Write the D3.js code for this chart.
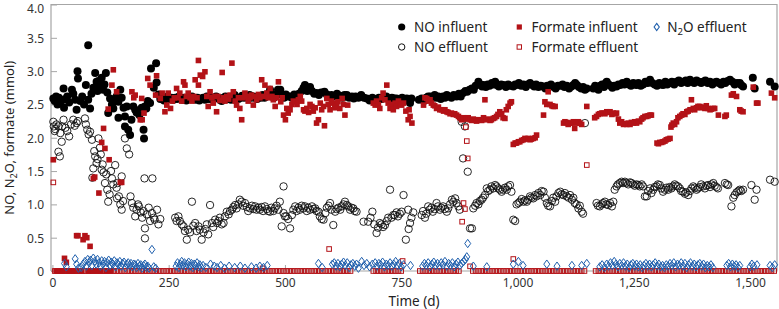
<!DOCTYPE html>
<html>
<head>
<meta charset="utf-8">
<script src="https://cdn.jsdelivr.net/npm/d3@7"></script>
<style>
  body { margin: 0; background: #fff; }
  svg { display: block; font-family: "Noto Sans", "Open Sans", sans-serif; }
</style>
</head>
<body>
<div id="chart"></div>
<script>
// [day, mmol]
const noInfluent = [
  [2,2.59],[5,2.55],[8,2.62],[11,2.5],[14,2.6],[17,2.52],[20,2.56],[24,2.74],[25,2.45],[28,2.58],[32,2.62],[36,2.53],[42,2.72],[45,2.66],[49,2.57],[52,2.42],[54,3.0],[55,2.89],[60,2.55],[64,2.62],[68,2.5],[72,2.79],[77,3.39],[77,2.57],[81,2.44],[84,2.66],[88,2.75],[92,2.97],[95,2.84],[97,2.7],[99,2.85],[102,2.78],[106,2.9],[109,2.72],[112,2.8],[115,2.97],[118,2.68],[120,2.37],[124,2.59],[128,2.5],[131,2.44],[135,2.55],[138,2.62],[142,2.54],[142,2.3],[146,2.72],[149,2.6],[153,2.45],[156,2.32],[156,2.17],[160,2.47],[163,2.12],[167,2.04],[170,2.27],[174,2.47],[178,2.42],[181,2.38],[187,2.34],[192,2.45],[196,2.12],[197,1.99],[199,2.47],[202,2.44],[205,2.55],[210,2.52],[212,3.04],[218,2.75],[223,3.12],[224,2.83],[228,2.65],
  [232,2.58],[236,2.6],[240,2.56],[244,2.6],[248,2.62],[252,2.58],[256,2.6],[260,2.57],[264,2.6],[268,2.58],[272,2.62],[276,2.6],[280,2.57],[284,2.6],[288,2.56],[292,2.58],[296,2.6],[300,2.62],[304,2.58],[308,2.57],[312,2.6],[316,2.56],[320,2.58],[324,2.6],[328,2.57],[332,2.62],[336,2.58],[340,2.6],[344,2.57],[348,2.59],[352,2.62],[356,2.6],[360,2.57],[364,2.55],[368,2.6],[372,2.62],[376,2.58],[380,2.6],[384,2.57],[388,2.62],[392,2.64],[396,2.6],[400,2.58],[404,2.6],[408,2.63],[412,2.6],[416,2.62],[420,2.6],[424,2.64],[428,2.6],[432,2.62],[436,2.6],[440,2.58],[444,2.62],[448,2.6],[452,2.64],[456,2.6],[460,2.62],[464,2.66],[468,2.72],[472,2.65],[476,2.6],[480,2.64],[485,2.72],[490,2.72],[494,2.64],[498,2.6],[502,2.65],[506,2.62],[511,2.62],[515,2.6],[520,2.65],[525,2.62],[530,2.66],[536,2.7],[540,2.75],[543,2.79],[548,2.7],[554,2.76],[558,2.7],[563,2.66],[568,2.67],[573,2.64],[578,2.68],[585,2.69],[590,2.65],[595,2.62],[600,2.64],[606,2.62],[612,2.66],[618,2.63],[624,2.6],[628,2.64],[633,2.64],[638,2.6],[644,2.62],[648,2.59],[652,2.62],[658,2.6],[664,2.64],[670,2.6],[676,2.59],[682,2.56],[688,2.6],[692,2.58],[697,2.57],[702,2.6],[708,2.58],[713,2.62],[718,2.62],[724,2.57],[730,2.6],[735,2.59],[740,2.59],[746,2.56],[752,2.6],[757,2.58],[762,2.59],[766,2.55],[769,2.52],[772,2.59],
  [788,2.57],[794,2.59],[799,2.55],[804,2.6],[808,2.62],[813,2.62],[818,2.6],[822,2.64],[826,2.6],[830,2.62],[835,2.58],[840,2.62],[844,2.6],[848,2.64],[853,2.62],[858,2.6],[863,2.64],[869,2.62],[874,2.66],[878,2.62],[883,2.67],[888,2.7],[892,2.69],[897,2.72],[902,2.74],[906,2.72],[910,2.78],[916,2.84],[920,2.8],[924,2.77],[927,2.79],[932,2.76],[936,2.8],[940,2.78],[945,2.82],[949,2.8],[952,2.84],[956,2.79],[960,2.77],[965,2.8],[970,2.79],[975,2.76],[980,2.8],[985,2.78],[991,2.77],[995,2.8],[998,2.79],[1003,2.82],[1008,2.78],[1013,2.8],[1018,2.76],[1022,2.8],[1027,2.82],[1032,2.79],[1036,2.77],[1040,2.8],[1045,2.76],[1050,2.78],[1055,2.77],[1060,2.74],[1064,2.78],[1068,2.76],[1072,2.8],[1077,2.77],[1082,2.74],[1087,2.78],[1092,2.78],[1097,2.8],[1101,2.76],[1106,2.78],[1111,2.74],[1116,2.77],[1120,2.79],[1124,2.82],[1128,2.79],[1132,2.76],[1137,2.74],[1141,2.76],[1145,2.72],[1149,2.74],
  [1163,2.74],[1167,2.78],[1170,2.76],[1174,2.72],[1178,2.78],[1182,2.8],[1186,2.76],[1190,2.82],[1192,2.84],[1196,2.8],[1200,2.78],[1204,2.75],[1208,2.78],[1213,2.77],[1217,2.8],[1221,2.79],[1226,2.82],[1230,2.8],[1235,2.84],[1240,2.8],[1244,2.78],[1249,2.82],[1253,2.8],[1256,2.79],[1260,2.82],[1265,2.78],[1270,2.8],[1275,2.84],[1280,2.82],[1285,2.87],[1290,2.82],[1295,2.8],[1300,2.78],[1305,2.82],[1309,2.8],[1313,2.79],[1318,2.84],[1322,2.8],[1327,2.82],[1332,2.84],[1337,2.8],[1342,2.84],[1347,2.86],[1352,2.82],[1357,2.84],[1362,2.86],[1366,2.82],[1371,2.87],[1376,2.84],[1380,2.82],[1385,2.86],[1390,2.84],[1395,2.82],[1399,2.84],[1404,2.86],[1409,2.82],[1414,2.84],[1419,2.8],[1424,2.83],[1428,2.84],[1433,2.82],[1438,2.8],[1443,2.84],[1447,2.82],[1452,2.85],[1457,2.87],[1462,2.84],[1467,2.8],[1472,2.82],[1478,2.82],[1481,2.79],[1485,2.77],[1506,2.9],[1510,2.74],[1543,2.84],[1553,2.77]
];

const noEffluent = [
  [2,2.24],[3,2.17],[5,2.1],[6,2.13],[9,2.2],[13,2.17],[13,1.79],[16,1.72],[17,2.07],[20,1.94],[21,2.17],[24,2.27],[28,2.15],[32,2.1],[36,2.02],[40,2.2],[45,2.27],[48,2.18],[52,2.22],[55,2.25],[70,2.29],[72,2.2],[75,2.12],[78,2.05],[81,2.09],[85,1.97],[86,1.4],[88,1.54],[90,1.8],[92,1.72],[95,1.62],[97,1.68],[99,1.99],[102,1.85],[104,1.75],[106,1.52],[108,1.6],[110,1.48],[113,1.32],[116,1.45],[118,1.22],[120,1.04],[123,1.15],[126,1.5],[128,1.39],[131,1.3],[135,1.59],[138,1.25],[139,1.09],[140,1.32],[143,1.12],[146,1.0],[149,1.42],[149,0.92],[152,1.05],[156,1.99],[160,1.84],[165,1.75],[168,1.12],[171,1.02],[174,0.95],[178,0.82],[181,0.92],[184,1.0],[186,0.97],[190,0.88],[193,0.8],[196,0.9],[198,1.39],[199,0.64],[199,0.49],[203,0.85],[207,0.95],[210,0.75],[214,0.87],[215,1.39],[218,0.8],[220,0.77],[225,0.92],[228,0.7],[232,0.78],
  [264,0.8],[267,0.75],[271,0.82],[274,0.75],[278,0.7],[282,0.67],[285,0.6],[289,0.47],[292,0.62],[296,0.58],[300,1.04],[303,0.68],[307,0.72],[310,0.6],[314,0.67],[317,0.62],[321,0.47],[325,0.58],[329,0.63],[332,0.7],[335,0.55],[339,0.99],[343,0.72],[346,0.66],[350,0.77],[354,0.72],[357,0.75],[360,0.8],[364,0.7],[368,0.72],[371,0.82],[375,0.89],[379,0.85],[382,0.9],[386,0.92],[389,0.96],[393,0.99],[396,0.94],[400,1.0],[403,1.07],[407,1.04],[410,0.98],[414,1.02],[418,0.96],[421,0.9],[425,0.94],[429,0.98],[432,0.93],[436,0.97],[439,0.92],[443,0.95],[446,0.92],[450,0.96],[453,0.9],[457,0.97],[461,0.93],[464,0.9],[468,0.89],[471,0.95],[475,0.9],[478,0.94],[482,0.98],[486,0.92],[489,1.04],[493,0.67],[497,1.27],[497,0.87],[500,0.82],[503,0.82],[507,0.78],[511,0.64],[515,0.84],[518,0.92],[522,0.97],[525,0.9],[529,0.95],[532,0.92],[536,0.98],[540,0.94],[543,0.97],[547,0.9],[550,0.95],[554,0.92],[558,0.97],[561,0.93],[565,0.94],[568,0.9],[572,0.89],[575,0.82],[579,0.78],[583,0.77],[587,0.87],[590,0.95],[594,0.98],[597,1.02],[600,0.92],[604,0.69],[608,0.89],[611,0.93],[615,0.95],[619,0.92],[622,0.97],[626,1.0],[629,1.04],[633,0.99],[636,0.97],[640,0.92],[643,0.95],[647,0.94],[650,0.9],[654,0.89],
  [669,0.74],[679,0.74],[684,0.8],[688,0.89],[692,0.7],[697,0.57],[700,0.65],[704,0.72],[708,0.7],[711,0.66],[715,0.69],[719,0.75],[722,0.8],[726,1.22],[729,0.8],[733,0.84],[736,0.84],[740,0.88],[743,0.82],[747,0.86],[751,0.89],[755,1.14],[760,0.47],[765,0.92],[766,0.63],[769,0.72],[772,0.8],[776,0.88],
  [794,0.84],[797,0.9],[801,0.8],[804,0.86],[808,0.97],[811,0.92],[815,0.95],[818,0.89],[822,0.93],[826,1.02],[829,0.97],[833,0.92],[836,0.95],[840,0.97],[844,0.93],[848,0.89],[851,0.94],[855,1.0],[859,1.07],[862,1.04],[866,1.09],[869,1.02],[873,0.97],[876,0.92],[880,2.24],[883,1.69],[887,2.17],[893,1.49],[898,0.64],[902,0.64],[905,0.94],[909,0.98],[912,1.02],[916,1.0],[919,1.05],[923,1.07],[926,1.1],[930,1.14],[934,1.24],[937,1.2],[941,1.22],[944,1.27],[948,1.24],[952,1.29],[955,1.27],[959,1.24],[962,1.22],[966,1.19],[969,1.22],[973,1.25],[977,1.22],[980,1.27],[984,1.29],[987,1.19],[991,0.77],[995,0.75],[998,1.0],[1002,1.02],[1005,1.04],[1009,1.08],[1013,1.04],[1016,1.06],[1020,1.04],[1023,1.07],[1027,1.12],[1030,1.1],[1034,1.09],[1038,1.14],[1041,1.12],[1045,1.17],[1049,1.14],[1052,1.2],[1056,1.19],[1059,1.1],[1063,1.02],[1066,0.98],[1070,0.97],[1074,1.05],[1077,1.1],[1081,1.04],[1084,1.12],[1088,1.17],[1092,1.19],[1095,1.15],[1099,1.14],[1102,1.17],[1106,1.12],[1110,1.1],[1113,1.14],[1117,1.07],[1120,1.1],[1123,1.02],[1127,1.0],[1131,0.94],[1134,0.98],[1138,0.89],[1141,0.86],[1145,2.22],
  [1170,1.02],[1173,0.98],[1177,0.97],[1181,1.0],[1184,1.02],[1188,1.04],[1191,1.0],[1195,0.99],[1199,1.02],[1203,0.97],[1206,1.04],[1209,1.22],[1213,1.27],[1216,1.3],[1220,1.32],[1224,1.34],[1227,1.32],[1231,1.34],[1234,1.32],[1238,1.3],[1242,1.33],[1245,1.32],[1249,1.3],[1252,1.28],[1256,1.3],[1260,1.29],[1263,1.27],[1267,1.3],[1270,1.27],[1274,1.12],[1278,1.12],[1281,1.2],[1285,1.24],[1288,1.17],[1292,1.22],[1295,1.26],[1299,1.27],[1302,1.3],[1306,1.29],[1309,1.24],[1313,1.19],[1317,1.22],[1320,1.25],[1324,1.22],[1327,1.26],[1331,1.24],[1334,1.27],[1338,1.3],[1341,1.28],[1345,1.27],[1349,1.24],[1352,1.2],[1356,1.19],[1360,1.16],[1363,1.18],[1367,1.14],[1371,1.2],[1374,1.24],[1378,1.27],[1381,1.25],[1385,1.22],[1388,1.24],[1392,1.26],[1395,1.3],[1399,1.27],[1403,1.24],[1406,1.28],[1410,1.29],[1414,1.26],[1417,1.3],[1421,1.32],[1424,1.28],[1428,1.26],[1431,1.24],[1446,1.32],[1450,1.3],[1453,1.29],[1460,0.97],[1464,1.1],[1467,1.14],[1471,1.18],[1475,1.2],[1478,1.22],[1481,1.2],[1485,1.22],[1503,1.29],[1510,1.07],[1514,1.22],[1543,1.37],[1553,1.34]
];

const formateInfluent = [
  [2,1.67],[8,0],[13,0],[18,0],[22,0],[26,0.19],[30,0.13],[34,0],[38,0],[42,0],[46,0],[52,0.53],[55,0.53],[58,0],[62,0],[66,0.47],[70,0.53],[74,0.5],[78,0],[81,0.37],[84,0],[88,1.39],[91,1.41],[95,0],[100,1.17],[104,0],[106,1.93],[110,2.14],[113,1.84],[116,0],[120,2.43],[122,1.67],[125,0],[128,2.79],[131,3.02],[138,2.69],[146,1.33],[149,1.33],[171,2.69],[175,2.6],[178,2.64],[189,2.27],[192,2.59],[193,2.27],[197,2.37],[205,2.89],[210,2.79],[222,2.64],[224,2.93],[232,2.59],[236,2.67],[242,2.39],[246,2.49],
  [249,2.67],[254,2.44],[258,2.55],[262,2.6],[267,2.74],[270,2.6],[274,2.67],[278,2.55],[282,2.84],[285,2.79],[288,2.62],[292,2.67],[296,2.6],[300,2.55],[304,2.62],[307,2.87],[311,2.6],[314,3.16],[314,2.79],[318,2.94],[323,2.92],[328,2.99],[332,2.62],[335,2.47],[339,2.69],[343,2.6],[346,2.52],[350,2.62],[353,2.39],[356,2.62],[360,2.56],[365,2.98],[368,2.6],[371,2.55],[375,2.62],[379,2.58],[382,2.64],[386,3.12],[389,2.69],[393,2.55],[396,2.49],[400,2.6],[403,2.44],[407,2.27],[410,2.6],[414,2.67],[418,2.62],[421,2.55],[425,2.6],[428,2.64],[432,2.49],[435,2.62],[439,2.57],[443,2.65],[446,2.6],[450,2.87],[454,2.62],[457,2.79],[461,2.67],[464,2.6],[468,2.74],[472,2.62],[475,2.57],[479,2.47],[482,2.6],[486,2.84],[491,2.54],[494,2.6],[497,2.34],[501,2.27],
  [504,2.44],[507,2.37],[511,2.42],[515,2.5],[518,2.55],[522,2.54],[526,2.5],[529,2.57],[533,2.62],[536,2.55],[540,2.42],[543,2.4],[547,2.44],[551,2.38],[554,2.5],[558,2.47],[561,2.4],[565,2.45],[568,2.22],[572,2.27],[576,2.52],[579,2.42],[583,2.47],[585,2.18],[590,2.59],[593,2.5],[597,2.42],[600,2.55],[604,2.52],[607,2.45],[611,2.47],[614,2.54],[618,2.44],[623,2.59],[626,2.5],[629,2.34],[635,2.49],
  [690,2.52],[694,2.49],[697,2.55],[701,2.5],[704,2.44],[708,2.6],[711,2.67],[715,2.57],[719,2.79],[722,2.52],[726,2.44],[729,2.5],[733,2.42],[737,2.52],[740,2.47],[744,2.55],[747,2.5],[751,2.49],[755,2.52],[760,2.4],[765,2.27],[767,2.42],[769,2.32],[773,2.22],
  [798,2.49],[801,2.6],[805,2.59],[808,2.55],[812,2.57],[815,2.52],[819,2.49],[822,2.48],[826,2.44],[830,2.46],[833,2.42],[837,2.42],[841,2.4],[844,2.42],[848,2.39],[851,2.38],[855,2.36],[858,2.37],[862,2.35],[865,2.36],[869,2.34],[873,2.32],[876,2.3],[880,2.27],[884,2.3],[887,2.28],[891,2.29],[894,2.3],[898,2.27],[902,2.26],[905,2.28],[909,2.27],[912,2.25],[916,2.27],[920,2.27],[923,2.26],[927,2.3],[930,2.57],[934,2.27],[937,2.28],[941,2.26],[944,2.27],[948,2.29],[951,2.3],[955,2.32],[958,2.35],[962,2.39],[966,2.36],[969,2.3],[973,2.29],[976,2.42],[980,2.47],[984,2.52],[987,2.54],
  [991,1.9],[995,1.92],[998,1.92],[1002,1.94],[1005,1.94],[1009,1.96],[1013,1.97],[1016,1.99],[1020,1.98],[1023,1.99],[1027,1.97],[1030,1.98],[1034,1.99],[1038,2.0],[1041,2.04],[1056,2.34],[1059,2.54],[1063,2.5],[1066,2.69],[1070,2.5],[1074,2.48],[1077,2.47],[1081,2.47],[1099,2.22],[1102,2.24],[1106,2.23],[1109,2.2],[1113,2.22],[1116,2.22],[1120,2.24],[1123,2.14],[1127,2.22],[1131,2.24],[1134,2.22],[1138,2.2],[1149,2.47],
  [1166,2.3],[1170,2.32],[1174,2.35],[1177,2.36],[1181,2.37],[1184,2.37],[1188,2.36],[1192,2.39],[1195,2.38],[1199,2.39],[1203,2.35],[1206,2.37],[1210,2.36],[1213,2.37],[1217,2.28],[1220,2.22],[1224,2.24],[1228,2.2],[1231,2.21],[1235,2.2],[1238,2.22],[1242,2.2],[1245,2.23],[1249,2.22],[1252,2.24],[1256,2.22],[1260,2.25],[1263,2.24],[1267,2.28],[1270,2.3],[1274,2.32],[1278,2.32],[1281,2.33],[1285,2.34],[1288,2.34],[1300,1.92],[1303,1.91],[1306,1.93],[1310,1.93],[1313,1.94],[1317,1.95],[1320,1.97],[1324,1.98],[1328,1.99],[1330,2.16],[1332,2.19],[1335,2.22],[1338,2.2],[1342,2.24],[1345,2.3],[1349,2.32],[1353,2.34],[1356,2.36],[1360,2.35],[1364,2.39],[1367,2.4],[1371,2.42],[1374,2.57],[1378,2.44],[1381,2.42],[1385,2.45],[1388,2.47],[1392,2.47],[1396,2.45],[1399,2.46],[1403,2.44],[1406,2.48],[1410,2.44],[1414,2.42],[1417,2.43],[1421,2.44],[1424,2.44],[1432,2.34],[1446,2.32],[1449,2.34],[1460,2.64],[1464,2.66],[1471,2.62],[1478,2.42],[1481,2.4],[1485,2.39],[1507,2.76],[1514,2.52],[1517,2.52],[1546,2.67],[1553,2.6]
];

const formateEffluent = [
  [2,1.33],[5,0],[11,0],[17,0],[23,0],[29,0],[35,0],[41,0],[47,0],[53,0],[59,0],[65,0],[71,0],[77,0],[83,0],[89,0],[95,0],[101,0],[107,0],[113,0],[119,0],[125,0],[131,0],[137,0],[143,0],[149,0],[155,0],[161,0],[167,0],[173,0],[179,0],[185,0],[191,0],[197,0],[203,0],[209,0],[215,0],[221,0],[227,0],[233,0],[239,0],[245,0],[251,0],[257,0],[263,0],[269,0],[275,0],[281,0],[287,0],[293,0],[299,0],[305,0],[311,0],[317,0],[323,0],[329,0],[335,0],[341,0],[347,0],[353,0],[359,0],[365,0],[371,0],[377,0],[383,0],[389,0],[395,0],[401,0],[407,0],[413,0],[419,0],[425,0],[431,0],[437,0],[443,0],[449,0],[452,0.04],[455,0],[461,0],[467,0],[473,0],[479,0],[485,0],[491,0],[497,0],[503,0],[509,0],[515,0],[521,0],[527,0],[533,0],[539,0],[545,0],[551,0],[557,0],[563,0],[569,0],[575,0],[581,0],[587,0],[595,0.33],[593,0],[599,0],[605,0],[611,0],[617,0],[623,0],[629,0],[635,0],[641,0],
  [690,0],[696,0],[702,0],[708,0],[714,0],[720,0],[726,0],[732,0],[738,0],[744,0],[750,0],[753,0.15],
  [790,0],[796,0],[802,0],[808,0],[814,0],[820,0],[826,0],[832,0],[838,0],[844,0],[850,0],[856,0],[862,0],[868,0],[874,0],[881,0.74],[884,1.02],[887,0.93],[889,2.16],[891,1.95],[893,1.69],[898,0.07],[904,0],[910,0],[916,0],[922,0],[928,0],[934,0],[940,0],[946,0],[952,0],[958,0],[964,0],[970,0],[976,0],[982,0],[988,0],[991,0.18],[994,0],[1000,0],[1006,0],[1012,0],[1018,0],[1024,0],[1030,0],[1036,0],[1042,0],[1048,0],[1054,0],[1060,0],[1066,0],[1072,0],[1078,0],[1084,0],[1090,0],[1096,0],[1102,0],[1108,0],[1114,0],[1120,0],[1126,0],[1132,0],[1138,0],[1144,0],[1149,1.59],
  [1168,0],[1174,0],[1180,0],[1186,0],[1192,0],[1198,0],[1204,0],[1210,0],[1216,0],[1222,0],[1228,0],[1234,0],[1240,0],[1246,0],[1252,0],[1258,0],[1264,0],[1270,0],[1276,0],[1282,0],[1288,0],[1294,0],[1300,0],[1306,0],[1312,0],[1318,0],[1324,0],[1330,0],[1336,0],[1342,0],[1348,0],[1354,0],[1360,0],[1366,0],[1372,0],[1378,0],[1384,0],[1390,0],[1396,0],[1402,0],[1408,0],[1414,0],[1420,0],[1426,0],[1432,0],[1438,0],[1444,0],[1450,0],[1456,0],[1462,0],[1468,0],[1474,0],[1480,0],[1486,0],[1492,0],[1498,0],[1504,0],[1510,0],[1516,0],[1522,0],[1528,0],[1534,0],[1540,0],[1546,0],[1552,0]
];

const n2oEffluent = [
  [26,0.09],[30,0.04],[49,0.16],[52,0.08],[56,0.02],[62,0.03],[66,0.08],[70,0.12],[73,0.05],[76,0.15],[79,0.1],[82,0.14],[85,0.06],[88,0.17],[91,0.12],[94,0.08],[97,0.15],[100,0.1],[103,0.05],[106,0.13],[109,0.08],[112,0.12],[115,0.03],[118,0.1],[121,0.14],[124,0.06],[127,0.11],[130,0.08],[133,0.13],[136,0.04],[139,0.1],[142,0.07],[145,0.12],[148,0.05],[151,0.09],[154,0.11],[157,0.03],[160,0.08],[163,0.1],[166,0.06],[169,0.09],[172,0.04],[175,0.08],[178,0.07],[181,0.03],[184,0.09],[187,0.05],[190,0.07],[193,0.02],[196,0.06],[199,0.08],[202,0.03],[205,0.05],[208,0.02],[214,0.3],[218,0.04],[222,0.02],
  [266,0.05],[269,0.1],[272,0.03],[275,0.08],[278,0.12],[281,0.06],[284,0.1],[287,0.04],[290,0.08],[293,0.11],[296,0.05],[299,0.09],[302,0.03],[305,0.08],[308,0.06],[311,0.1],[314,0.04],[317,0.07],[320,0.03],[324,0.06],[330,0.03],[340,0.08],[348,0.05],[354,0.03],[362,0.06],[370,0.02],[380,0.05],[392,0.03],[404,0.05],[414,0.02],[428,0.04],[438,0.02],[446,0.05],[454,0.03],[462,0.06],
  [572,0.09],[580,0.03],[602,0.08],[606,0.1],[610,0.05],[614,0.09],[618,0.04],[622,0.08],[626,0.11],[630,0.06],[634,0.1],[638,0.03],[642,0.07],[646,0.09],[650,0.05],[654,0.08],[658,0.02],[665,0.12],[670,0.06],[676,0.09],[682,0.04],[688,0.08],[694,0.1],[698,0.05],[702,0.09],[706,0.07],[710,0.11],[714,0.04],[718,0.08],[722,0.06],[726,0.1],[730,0.05],[734,0.08],[738,0.12],[742,0.06],[746,0.09],[750,0.04],[755,0.07],[770,0.06],
  [796,0.05],[800,0.09],[804,0.06],[808,0.1],[812,0.04],[816,0.08],[820,0.11],[824,0.06],[828,0.09],[832,0.05],[836,0.1],[840,0.07],[844,0.12],[848,0.05],[852,0.09],[856,0.06],[860,0.1],[864,0.04],[868,0.08],[872,0.11],[876,0.06],[880,0.09],[884,0.12],[888,0.15],[891,0.19],[893,0.39],[905,0.05],[934,0.04],[991,0.08],[1002,0.12],[1012,0.06],[1063,0.08],[1085,0.05],[1117,0.06],[1138,0.06],[1149,0.09],
  [1177,0.04],[1182,0.07],[1187,0.03],[1192,0.08],[1196,0.05],[1200,0.1],[1204,0.06],[1208,0.12],[1212,0.08],[1216,0.04],[1220,0.09],[1224,0.06],[1228,0.1],[1232,0.05],[1236,0.08],[1240,0.03],[1244,0.07],[1248,0.09],[1252,0.05],[1256,0.08],[1260,0.04],[1264,0.07],[1268,0.03],[1272,0.06],[1276,0.09],[1280,0.05],[1284,0.08],[1288,0.04],[1292,0.07],[1296,0.1],[1300,0.05],[1304,0.08],[1308,0.04],[1312,0.06],[1316,0.03],[1320,0.07],[1324,0.05],[1328,0.09],[1332,0.06],[1336,0.1],[1340,0.04],[1344,0.08],[1348,0.06],[1352,0.1],[1356,0.05],[1360,0.09],[1364,0.03],[1368,0.07],[1372,0.1],[1376,0.05],[1380,0.08],[1384,0.04],[1388,0.07],[1392,0.09],[1396,0.05],[1400,0.08],[1404,0.03],[1408,0.06],[1412,0.04],[1416,0.07],[1420,0.03],
  [1450,0.06],[1454,0.09],[1458,0.04],[1462,0.08],[1466,0.05],[1470,0.07],[1474,0.03],[1478,0.06],[1500,0.04],[1504,0.08],[1508,0.05],[1515,0.07],[1543,0.06],[1548,0.03],[1553,0.07]
];

const xTicks = [0, 250, 500, 750, 1000, 1250, 1500];
const yTicks = [0, 0.5, 1, 1.5, 2, 2.5, 3, 3.5, 4];

const RED = '#b31217';
const BLUE = '#1f5fad';

const width = 779, height = 309;
const margin = { top: 4.5, right: 2, bottom: 38, left: 51 };

const svg = d3.select('#chart').append('svg')
    .attr('width', width)
    .attr('height', height);

const x = d3.scaleLinear().domain([-3, 1558]).range([margin.left, width - margin.right]);
const y = d3.scaleLinear().domain([0, 4]).range([height - margin.bottom, margin.top]);

const axisColor = '#a6a6a6';

// axes (ticks point inward)
const yAxis = svg.append('g')
    .attr('transform', `translate(${margin.left},0)`)
    .call(d3.axisLeft(y).tickValues(yTicks).tickSize(-6).tickPadding(7)
        .tickFormat(d => d === 0 ? '0' : d3.format('.1f')(d)));
const xAxis = svg.append('g')
    .attr('transform', `translate(0,${y(0)})`)
    .call(d3.axisBottom(x).tickValues(xTicks).tickSize(-6).tickPadding(7)
        .tickFormat(d3.format(',')));

[xAxis, yAxis].forEach(g => {
    g.select('.domain').remove();
    g.selectAll('line').attr('stroke', axisColor);
    g.selectAll('text').attr('fill', '#333').attr('font-size', 12)
        .attr('font-family', '"Noto Sans", sans-serif');
});
yAxis.selectAll('text').attr('dy', '0.36em');
// the top label sits on the frame edge, keep it inside the picture
yAxis.selectAll('.tick').filter(d => d === 4).select('text').attr('dy', '0.68em');

// frame: left, top, right, bottom
const x0 = margin.left, x1 = width - margin.right;
svg.append('path')
    .attr('d', `M${x0},${y(0)}V${margin.top}H${x1}V${y(0)}H${x0}`)
    .attr('fill', 'none')
    .attr('stroke', axisColor)
    .attr('stroke-width', 1.2);

// axis titles
svg.append('text')
    .attr('x', (x0 + x1) / 2)
    .attr('y', 306)
    .attr('text-anchor', 'middle')
    .attr('font-size', 13.5)
    .attr('fill', '#222')
    .text('Time (d)');

const yTitle = svg.append('text')
    .attr('transform', `translate(14,${(y(0) + margin.top) / 2}) rotate(-90)`)
    .attr('text-anchor', 'middle')
    .attr('font-size', 13)
    .attr('fill', '#222');
yTitle.append('tspan').text('NO, N');
yTitle.append('tspan').attr('font-size', 9).attr('dy', 3).text('2');
yTitle.append('tspan').attr('dy', -3).text('O, formate (mmol)');

// marks
const plot = svg.append('g');

plot.selectAll('circle.noin').data(noInfluent).join('circle')
    .attr('class', 'noin')
    .attr('cx', d => x(d[0])).attr('cy', d => y(d[1]))
    .attr('r', 4).attr('fill', '#000');

plot.selectAll('circle.noeff').data(noEffluent).join('circle')
    .attr('class', 'noeff')
    .attr('cx', d => x(d[0])).attr('cy', d => y(d[1]))
    .attr('r', 3.7).attr('fill', 'none').attr('stroke', '#111').attr('stroke-width', 0.9);

plot.selectAll('rect.fin').data(formateInfluent).join('rect')
    .attr('class', 'fin')
    .attr('x', d => x(d[0]) - 2.8).attr('y', d => y(d[1]) - 2.8)
    .attr('width', 5.6).attr('height', 5.6).attr('fill', RED);

plot.selectAll('rect.feff').data(formateEffluent).join('rect')
    .attr('class', 'feff')
    .attr('x', d => x(d[0]) - 2.3).attr('y', d => y(d[1]) - 2.3)
    .attr('width', 4.6).attr('height', 4.6)
    .attr('fill', 'none').attr('stroke', RED).attr('stroke-width', 1);

const diamond = (cx, cy, w, h) => `M${cx},${cy - h}L${cx + w},${cy}L${cx},${cy + h}L${cx - w},${cy}Z`;

plot.selectAll('path.n2o').data(n2oEffluent).join('path')
    .attr('class', 'n2o')
    .attr('d', d => diamond(x(d[0]), y(d[1]) - 1.5, 3, 4.2))
    .attr('fill', 'none').attr('stroke', BLUE).attr('stroke-width', 1);

// legend
const legendItems = [
    { label: 'NO influent', x: 401.7, y: 27, kind: 'dot' },
    { label: 'NO effluent', x: 401.7, y: 47, kind: 'ring' },
    { label: 'Formate influent', x: 519.3, y: 27, kind: 'square' },
    { label: 'Formate effluent', x: 519.3, y: 47, kind: 'box' },
    { label: 'N2O effluent', x: 656.7, y: 27, kind: 'diamond' }
];

const legend = svg.append('g');
legendItems.forEach(it => {
    const g = legend.append('g');
    if (it.kind === 'dot') {
        g.append('circle').attr('cx', it.x).attr('cy', it.y).attr('r', 3.6).attr('fill', '#000');
    } else if (it.kind === 'ring') {
        g.append('circle').attr('cx', it.x).attr('cy', it.y).attr('r', 3.2)
            .attr('fill', 'none').attr('stroke', '#111').attr('stroke-width', 1);
    } else if (it.kind === 'square') {
        g.append('rect').attr('x', it.x - 2.6).attr('y', it.y - 2.6).attr('width', 5.2).attr('height', 5.2).attr('fill', RED);
    } else if (it.kind === 'box') {
        g.append('rect').attr('x', it.x - 2.2).attr('y', it.y - 2.2).attr('width', 4.4).attr('height', 4.4)
            .attr('fill', 'none').attr('stroke', RED).attr('stroke-width', 1);
    } else {
        g.append('path').attr('d', diamond(it.x, it.y, 2.6, 3.6))
            .attr('fill', 'none').attr('stroke', BLUE).attr('stroke-width', 1.1);
    }
    const t = g.append('text')
        .attr('x', it.x + (it.kind === 'diamond' ? 10.6 : 12.3))
        .attr('y', it.y + 5)
        .attr('font-size', 13.5)
        .attr('fill', '#222');
    if (it.label.startsWith('N2O')) {
        t.append('tspan').text('N');
        t.append('tspan').attr('font-size', 9.5).attr('dy', 3).text('2');
        t.append('tspan').attr('dy', -3).text('O effluent');
    } else {
        t.text(it.label);
    }
});
</script>
</body>
</html>
